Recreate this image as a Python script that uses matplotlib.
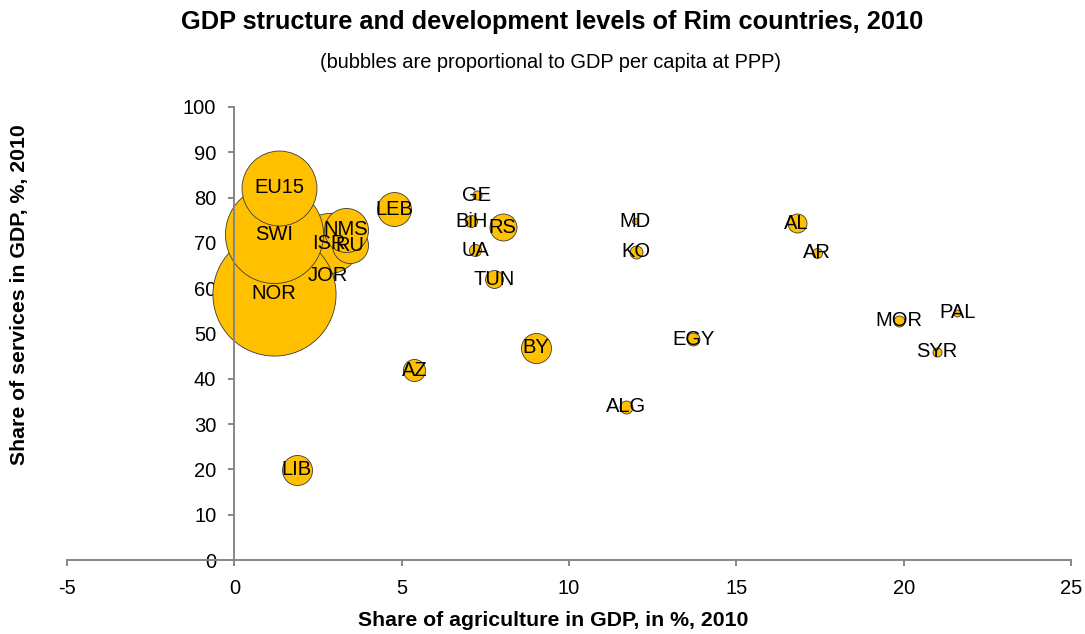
import matplotlib.pyplot as plt
import numpy as np

plt.rcParams['font.family'] = ['Liberation Sans', 'DejaVu Sans']
plt.rcParams['axes.unicode_minus'] = False

# ===== data =====
countries = ['JOR', 'ISR', 'RU', 'NMS', 'NOR', 'SWI', 'EU15', 'LEB', 'LIB', 'AZ',
             'GE', 'BiH', 'RS', 'UA', 'TUN', 'BY', 'MD', 'KO', 'AL', 'AR',
             'EGY', 'ALG', 'MOR', 'PAL', 'SYR']
agri = [2.8, 2.83, 3.45, 3.33, 1.19, 1.18, 1.34, 4.77, 1.86, 5.38,
        7.24, 7.08, 8.02, 7.2, 7.76, 9.0, 11.96, 12.0, 16.8, 17.4,
        13.71, 11.7, 19.87, 21.6, 21.0]
services = [62.7, 69.9, 69.5, 72.9, 58.8, 71.9, 82.2, 77.4, 19.9, 41.9,
            80.5, 74.8, 73.5, 68.4, 62.0, 46.8, 74.8, 68.0, 74.3, 67.8,
            48.7, 33.8, 52.8, 54.6, 46.0]
# GDP per capita at PPP, thousand USD
gdp_pc = [5.6, 27.8, 16.7, 20.4, 57.0, 45.4, 34.7, 15.7, 13.9, 10.2,
          4.2, 5.6, 12.5, 5.6, 8.3, 13.9, 2.8, 6.0, 8.8, 4.6,
          6.0, 6.0, 5.1, 3.2, 4.2]

# ===== style =====
BUBBLE_COLOR = '#FFC000'
AXIS_COLOR = '#868686'
PX_PER_UNIT = 1.08   # bubble radius in pixels per thousand USD
DPI = 100

fig = plt.figure(figsize=(10.85, 6.34), dpi=DPI)
ax = fig.add_axes([67 / 1085, 1 - 560 / 634, (1071 - 67) / 1085, (560 - 107) / 634])

radius_pt = np.array(gdp_pc) * PX_PER_UNIT * 72 / DPI
sizes = (2 * radius_pt) ** 2

for i, c in enumerate(countries):
    ax.scatter(agri[i], services[i], s=sizes[i], color=BUBBLE_COLOR,
               edgecolor='#3a3a3a', linewidth=0.6, zorder=2 + i * 0.01)
for i, c in enumerate(countries):
    ax.text(agri[i], services[i], c, ha='center', va='center',
            fontsize=14.5, color='black', zorder=5)

ax.set_xlim(-5, 25)
ax.set_ylim(0, 100)
ax.set_xticks(np.arange(-5, 26, 5))
ax.set_yticks(np.arange(0, 101, 10))

ax.spines['left'].set_position(('data', 0))
ax.spines['top'].set_visible(False)
ax.spines['right'].set_visible(False)
for s in ['left', 'bottom']:
    ax.spines[s].set_color(AXIS_COLOR)
    ax.spines[s].set_linewidth(1.4)
ax.tick_params(axis='both', direction='out', length=4, width=1.4,
               color=AXIS_COLOR, labelsize=14.5)
ax.tick_params(axis='x', pad=10)
ax.tick_params(axis='y', pad=9)

fig.text(552 / 1085, 1 - 22 / 634, 'GDP structure and development levels of Rim countries, 2010',
         ha='center', va='center', fontsize=18.3, fontweight='bold')
fig.text(550 / 1085, 1 - 62 / 634, '(bubbles are proportional to GDP per capita at PPP)',
         ha='center', va='center', fontsize=14.4)
fig.text(553 / 1085, 1 - 621 / 634, 'Share of agriculture in GDP, in %, 2010',
         ha='center', va='center', fontsize=15.3, fontweight='bold')
fig.text(20 / 1085, 1 - 295 / 634, 'Share of services in GDP, %, 2010',
         ha='center', va='center', rotation=90, fontsize=15.3, fontweight='bold')

fig.savefig('out.png', dpi=DPI)
